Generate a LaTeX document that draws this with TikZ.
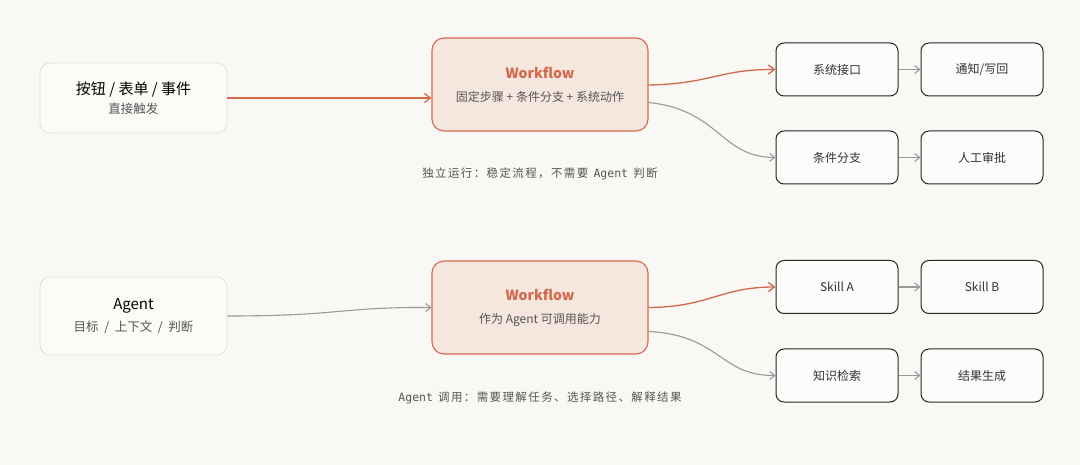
\documentclass[tikz,border=0pt]{standalone}
\usepackage{fontspec}
\setmainfont{Noto Sans CJK SC}
\newfontfamily\monof{DejaVu Sans Mono}
\newfontfamily\capf[LetterSpace=12]{Noto Sans CJK SC}
\usetikzlibrary{arrows.meta}
\definecolor{bg}{HTML}{FAF8F4}
\definecolor{orng}{HTML}{D2694A}
\definecolor{wfill}{HTML}{F5E6DE}
\definecolor{lgray}{HTML}{E4E0D8}
\definecolor{txt}{HTML}{555555}
\definecolor{garr}{HTML}{999999}
\begin{document}
\begin{tikzpicture}[x=1pt,y=-1pt,
 src/.style={draw=lgray,fill=bg!60!white,rounded corners=10pt,line width=0.8pt,minimum width=187pt,align=center},
 wf/.style={draw=orng,fill=wfill,rounded corners=12pt,line width=1.1pt,minimum width=216pt,minimum height=93pt,align=center},
 box/.style={draw=black!85,fill=white!60!bg,rounded corners=8pt,line width=1pt,minimum width=122pt,minimum height=53pt,font=\fontsize{12}{14}\selectfont,text=black!80},
 oa/.style={draw=orng,line width=1.3pt,-{Straight Barb[length=6pt,width=9pt]}},
 ga/.style={draw=garr,line width=1.1pt,-{Straight Barb[length=5pt,width=8pt]}},
 captxt/.style={font=\fontsize{11.5}{13}\selectfont,text=txt}]
\fill[bg] (0,0) rectangle (1080,465);
\useasboundingbox (0,0) rectangle (1080,465);
% top
\node[src,minimum height=70pt] (s1) at (133.5,98) {\fontsize{15}{18}\selectfont 按钮 / 表单 / 事件\\[5pt]\fontsize{12.5}{15}\selectfont\color{txt}直接触发};
\node[wf] (w1) at (540,84.5) {\fontsize{14}{17}\selectfont\bfseries\color{orng}Workflow\\[11pt]\fontsize{12}{14}\selectfont\color{txt}固定步骤 + 条件分支 + 系统动作};
\node[box] (a1) at (837,69.5) {系统接口};
\node[box] (a2) at (982,69.5) {通知/写回};
\node[box] (b1) at (837,157.5) {条件分支};
\node[box] (b2) at (982,157.5) {人工审批};
\node[captxt] (c1) at (540,174) {{\capf 独立运行：稳定流程，不需要}\ \ {\monof Agent}\ \ {\capf 判断}};
\draw[oa] (s1.east) -- (w1.west|-s1.east);
\draw[oa] ([yshift=-0.5pt]w1.east) .. controls (710,84) and (720,69) .. (a1.west);
\draw[ga] ([yshift=-18pt]w1.east) .. controls (720,110) and (720,157) .. (b1.west);
\draw[ga] (a1) -- (a2);
\draw[ga] (b1) -- (b2);
% bottom
\node[src,minimum height=78pt] (s2) at (133.5,316) {\fontsize{15}{18}\selectfont Agent\\[7pt]\fontsize{12.5}{15}\selectfont\color{txt}目标 \ / \ 上下文 \ / \ 判断};
\node[wf] (w2) at (540,307.5) {\fontsize{14}{17}\selectfont\bfseries\color{orng}Workflow\\[11pt]\fontsize{12}{14}\selectfont\color{txt}作为 Agent 可调用能力};
\node[box] (d1) at (837,287) {Skill A};
\node[box] (d2) at (982,287) {Skill B};
\node[box] (e1) at (837,375.5) {知识检索};
\node[box] (e2) at (982,375.5) {结果生成};
\node[captxt] (c2) at (540,398) {{\monof Agent}\ \ {\capf 调用：需要理解任务、选择路径、解释结果}};
\draw[ga] (s2.east) .. controls (340,316) and (340,307) .. (w2.west);
\draw[oa] (w2.east) .. controls (710,307) and (720,287) .. (d1.west);
\draw[ga] ([yshift=-24pt]w2.east) .. controls (720,335) and (720,376) .. (e1.west);
\draw[ga] (d1) -- (d2);
\draw[ga] (e1) -- (e2);
\end{tikzpicture}
\end{document}
